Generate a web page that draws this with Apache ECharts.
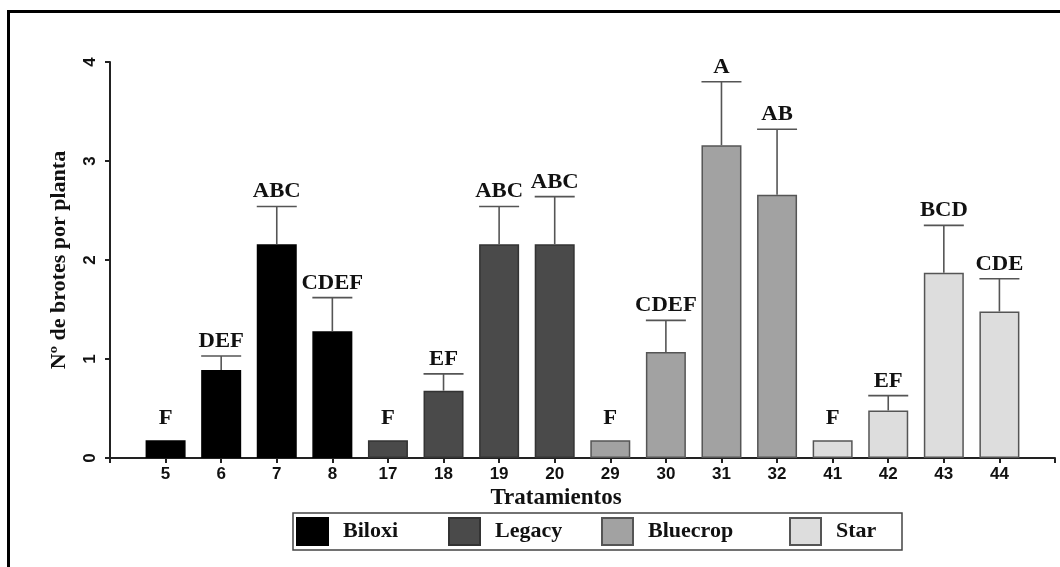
<!DOCTYPE html>
<html>
<head>
<meta charset="utf-8">
<script src="https://cdn.jsdelivr.net/npm/echarts@6/dist/echarts.min.js"></script>
<style>
html,body{margin:0;padding:0;background:#fff;}
#chart{width:1060px;height:567px;}
</style>
</head>
<body>
<div id="chart"></div>
<script>
// ---- data ----
const categories = ['5','6','7','8','17','18','19','20','29','30','31','32','41','42','43','44'];
const means = [0.18,0.89,2.16,1.28,0.18,0.68,2.16,2.16,0.18,1.07,3.16,2.66,0.18,0.48,1.87,1.48];
const errors = [0,0.14,0.38,0.34,0,0.17,0.38,0.48,0,0.32,0.64,0.66,0,0.15,0.48,0.33];
const letters = ['F','DEF','ABC','CDEF','F','EF','ABC','ABC','F','CDEF','A','AB','F','EF','BCD','CDE'];
const cultivars = ['Biloxi','Legacy','Bluecrop','Star'];
const cultivarOf = [0,0,0,0,1,1,1,1,2,2,2,2,3,3,3,3];
const yTicks = [0,1,2,3,4];

// ---- styles ----
const fills = ['#000000','#4a4a4a','#a2a2a2','#dddddd'];
const borders = ['#000000','#333333','#555555','#555555'];
const serif = '"Liberation Serif","Times New Roman",serif';
const sans = '"Liberation Sans",Arial,sans-serif';

const axisCats = [''].concat(categories, ['']);

const barSeries = cultivars.map((name, g) => ({
  name: name,
  type: 'bar',
  barWidth: 40,
  barGap: '-100%',
  itemStyle: {color: fills[g], borderColor: borders[g], borderWidth: 1.5},
  data: axisCats.map((c, i) => {
    const k = i - 1;
    return (k >= 0 && k < categories.length && cultivarOf[k] === g) ? means[k] : '-';
  }),
  z: 2
}));

const errSeries = {
  type: 'custom',
  z: 5,
  data: categories.map((c, k) => [k + 1, means[k], errors[k]]),
  renderItem: function (params, api) {
    const x = api.value(0), m = api.value(1), se = api.value(2);
    const base = api.coord([x, m]);
    const top = api.coord([x, m + se]);
    const half = 20;
    const children = [];
    const ls = {stroke: '#555555', lineWidth: 1.6};
    if (se > 0) {
      children.push({type: 'line', shape: {x1: base[0], y1: base[1], x2: base[0], y2: top[1]}, style: ls});
      children.push({type: 'line', shape: {x1: base[0] - half, y1: top[1], x2: base[0] + half, y2: top[1]}, style: ls});
    }
    children.push({
      type: 'text',
      x: base[0],
      y: top[1] - (se > 0 ? 4 : 11),
      scaleX: 1.08,
      style: {
        text: letters[params.dataIndex],
        x: 0,
        y: 0,
        align: 'center',
        verticalAlign: 'bottom',
        font: 'bold 21px ' + serif,
        fill: '#111'
      }
    });
    return {type: 'group', children: children};
  }
};

const legendLefts = [296, 448, 601, 789];
const legends = cultivars.map((name, g) => ({
  data: [name],
  left: legendLefts[g],
  top: 517,
  padding: 0,
  itemWidth: 31,
  itemHeight: 27,
  icon: 'rect',
  selectedMode: false,
  textStyle: {fontFamily: serif, fontWeight: 'bold', fontSize: 22, color: '#111', padding: [0, 0, 0, 10]}
}));

const chart = echarts.init(document.getElementById('chart'), null, {renderer: 'canvas'});
chart.setOption({
  animation: false,
  backgroundColor: '#ffffff',
  grid: {left: 110, right: 5, top: 62, bottom: 109, containLabel: false},
  legend: legends,
  xAxis: {
    type: 'category',
    data: axisCats,
    boundaryGap: false,
    axisLine: {lineStyle: {color: '#222', width: 2}},
    axisTick: {show: true, length: 5, inside: false, lineStyle: {color: '#222', width: 2}, alignWithLabel: true},
    axisLabel: {interval: 0, margin: 8, fontFamily: sans, fontWeight: 'bold', fontSize: 17, color: '#111'},
    splitLine: {show: false}
  },
  yAxis: {
    type: 'value',
    min: 0,
    max: 4,
    interval: 1,
    name: 'Nº de brotes por planta',
    nameLocation: 'middle',
    nameGap: 40,
    nameRotate: 90,
    nameTextStyle: {fontFamily: serif, fontWeight: 'bold', fontSize: 22, color: '#111'},
    axisLine: {show: true, lineStyle: {color: '#222', width: 2}},
    axisTick: {show: true, length: 5, lineStyle: {color: '#222', width: 2}},
    axisLabel: {rotate: 90, margin: 11, fontFamily: sans, fontWeight: 'bold', fontSize: 17, color: '#111',
      formatter: function (v) { return yTicks.indexOf(v) >= 0 ? String(v) : ''; }},
    splitLine: {show: false}
  },
  graphic: [
    {type: 'polyline', shape: {points: [[8.5, 567], [8.5, 11.5], [1060, 11.5]]}, style: {stroke: '#000', lineWidth: 3, fill: null}, silent: true},
    {type: 'rect', shape: {x: 293, y: 513, width: 609, height: 37}, style: {stroke: '#444', lineWidth: 1.5, fill: null}, silent: true, z: -1},
    {type: 'text', style: {text: 'Tratamientos', x: 556, y: 498, align: 'center', verticalAlign: 'middle', font: 'bold 23px ' + serif, fill: '#111'}, silent: true}
  ],
  series: barSeries.concat([errSeries])
});
</script>
</body>
</html>
